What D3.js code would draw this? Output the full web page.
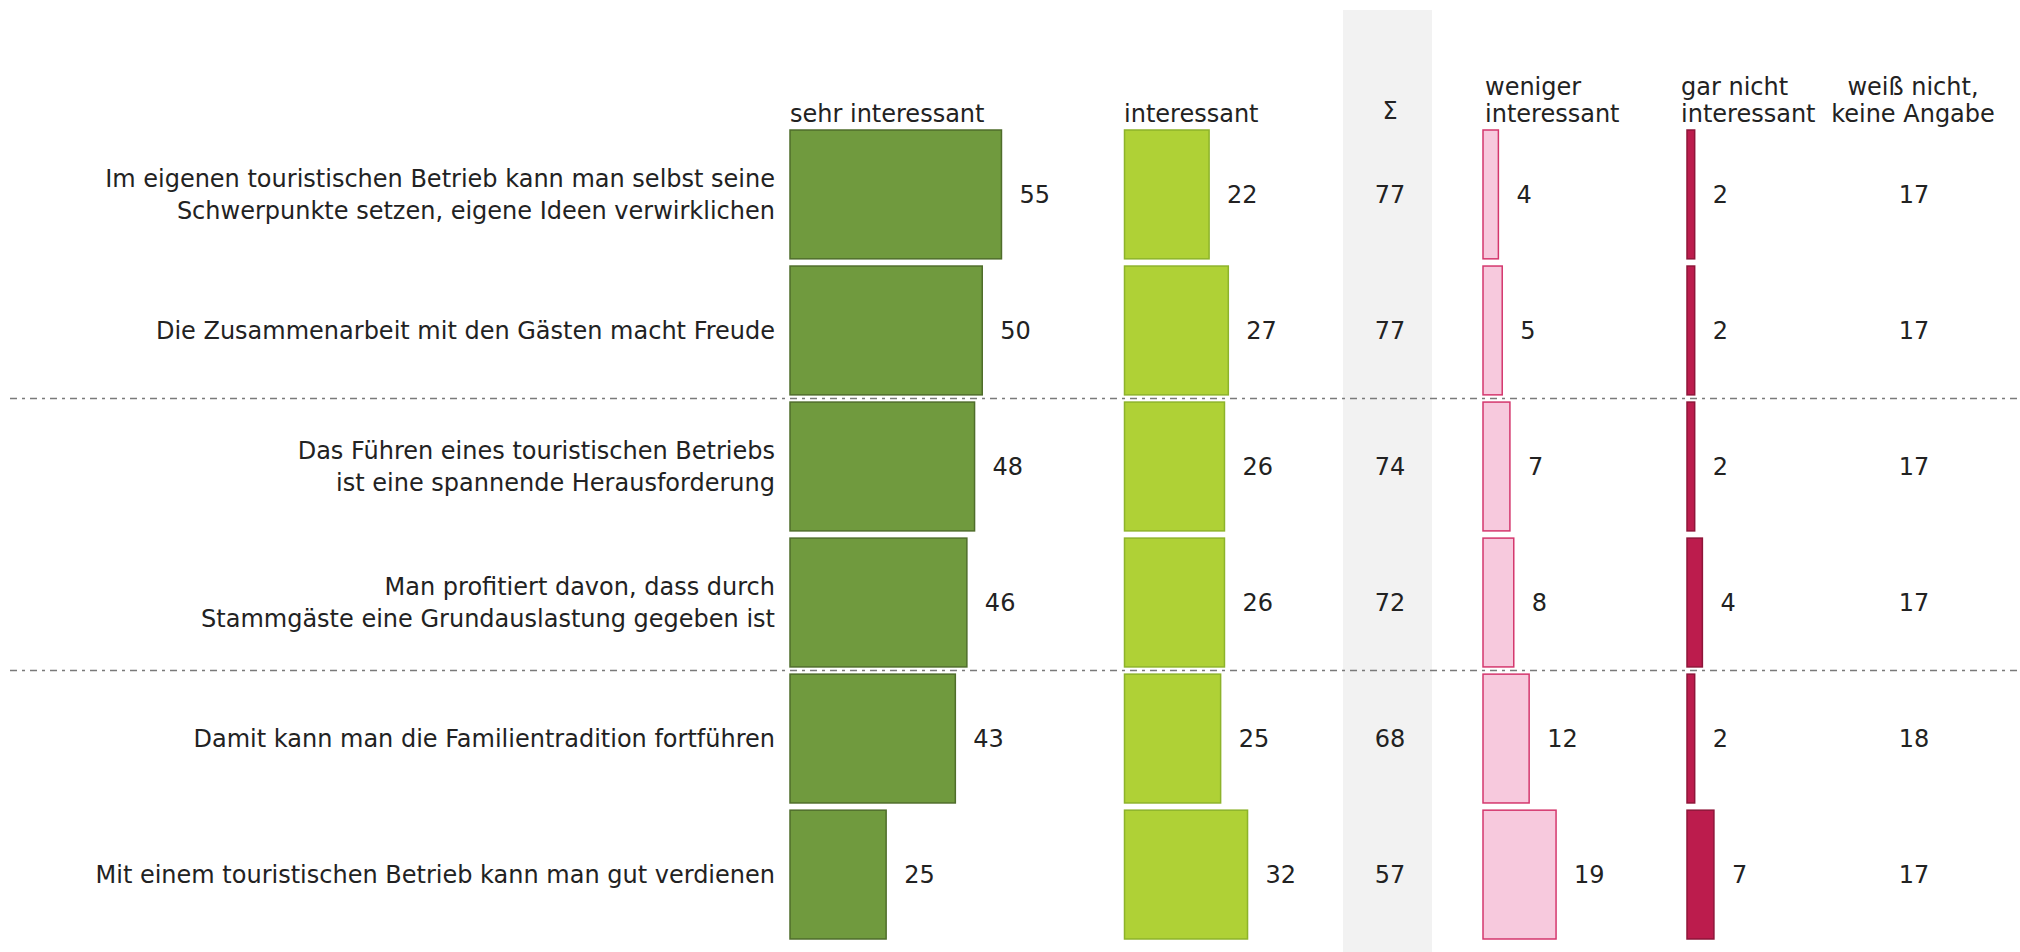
<!DOCTYPE html>
<html>
<head>
<meta charset="utf-8">
<script src="https://cdn.jsdelivr.net/npm/d3@7"></script>
<style>
  html, body { margin: 0; padding: 0; background: #fff; }
  svg text { font-family: "DejaVu Sans", sans-serif; fill: #222; }
</style>
</head>
<body>
<svg id="chart"></svg>
<script>
// categories (line breaks marked with |)
const categories = [
  'Im eigenen touristischen Betrieb kann man selbst seine|Schwerpunkte setzen, eigene Ideen verwirklichen',
  'Die Zusammenarbeit mit den Gästen macht Freude',
  'Das Führen eines touristischen Betriebs|ist eine spannende Herausforderung',
  'Man profitiert davon, dass durch|Stammgäste eine Grundauslastung gegeben ist',
  'Damit kann man die Familientradition fortführen',
  'Mit einem touristischen Betrieb kann man gut verdienen'
];

const sehrInteressant = [55, 50, 48, 46, 43, 25];
const interessant     = [22, 27, 26, 26, 25, 32];
const summe           = [77, 77, 74, 72, 68, 57];
const wenigerInt      = [4, 5, 7, 8, 12, 19];
const garNichtInt     = [2, 2, 2, 4, 2, 7];
const weissNicht      = [17, 17, 17, 17, 18, 17];

const headers = [
  {key: 'sehr',    lines: ['sehr interessant']},
  {key: 'inter',   lines: ['interessant']},
  {key: 'sum',     lines: ['Σ']},
  {key: 'weniger', lines: ['weniger', 'interessant']},
  {key: 'gar',     lines: ['gar nicht', 'interessant']},
  {key: 'wn',      lines: ['weiß nicht,', 'keine Angabe']}
];

// separators drawn after these row indices
const groupBreaks = [1, 3];

const width = 2020, height = 952;
const fontSize = 24;

const svg = d3.select('#chart')
    .attr('width', width)
    .attr('height', height);

const y = d3.scaleBand()
    .domain(d3.range(categories.length))
    .range([126.4, 942.6])
    .paddingInner(0.053)
    .paddingOuter(0.0265);

// one unit scale per bar column, all sharing the same px/percent
const unit = d3.scaleLinear().domain([0, 100]).range([0, 384.5]);

const cols = [
  {key: 'sehr',    x0: 790,    values: sehrInteressant, fill: '#709a3e', stroke: '#4f6d2b'},
  {key: 'inter',   x0: 1124.5, values: interessant,     fill: '#afd136', stroke: '#8db32a'},
  {key: 'weniger', x0: 1483,   values: wenigerInt,      fill: '#f7c9dd', stroke: '#d4376d'},
  {key: 'gar',     x0: 1687,   values: garNichtInt,     fill: '#bc1c4d', stroke: '#8e1539'}
];

// grey band behind the sum column
svg.append('rect')
    .attr('x', 1343)
    .attr('y', 10)
    .attr('width', 89)
    .attr('height', height - 10)
    .attr('fill', '#f2f2f2');

// dash-dot separators
svg.selectAll('.sep')
  .data(groupBreaks)
  .join('line')
    .attr('class', 'sep')
    .attr('x1', 10)
    .attr('x2', width)
    .attr('y1', d => y(d) + y.bandwidth() + (y.step() - y.bandwidth()) / 2)
    .attr('y2', d => y(d) + y.bandwidth() + (y.step() - y.bandwidth()) / 2)
    .attr('stroke', '#7a7a7a')
    .attr('stroke-width', 1.5)
    .attr('stroke-dasharray', '7 5 3 5');

// category labels
const labels = svg.selectAll('.cat')
  .data(categories)
  .join('text')
    .attr('class', 'cat')
    .attr('text-anchor', 'end')
    .attr('font-size', fontSize)
    .attr('x', 775)
    .attr('y', (d, i) => y(i) + y.bandwidth() / 2);

labels.each(function(d) {
  const lines = d.split('|');
  const lh = 32;
  d3.select(this).selectAll('tspan')
    .data(lines)
    .join('tspan')
      .attr('x', 775)
      .attr('dy', (l, j) => j === 0 ? (-(lines.length - 1) * lh / 2 + fontSize * 0.36) : lh)
      .text(l => l);
});

// bars + value labels
cols.forEach(c => {
  const g = svg.append('g').attr('class', 'col-' + c.key);
  g.selectAll('rect')
    .data(c.values)
    .join('rect')
      .attr('x', c.x0)
      .attr('y', (d, i) => y(i))
      .attr('width', d => unit(d))
      .attr('height', y.bandwidth())
      .attr('fill', c.fill)
      .attr('stroke', c.stroke)
      .attr('stroke-width', 1.5);
  g.selectAll('text')
    .data(c.values)
    .join('text')
      .attr('x', d => c.x0 + unit(d) + 18)
      .attr('y', (d, i) => y(i) + y.bandwidth() / 2)
      .attr('dy', '0.36em')
      .attr('font-size', fontSize)
      .text(d => d);
});

// text-only columns: sum and "weiß nicht"
[{values: summe, cx: 1390}, {values: weissNicht, cx: 1914}].forEach(c => {
  svg.append('g').selectAll('text')
    .data(c.values)
    .join('text')
      .attr('x', c.cx)
      .attr('y', (d, i) => y(i) + y.bandwidth() / 2)
      .attr('dy', '0.36em')
      .attr('text-anchor', 'middle')
      .attr('font-size', fontSize)
      .text(d => d);
});

// column headers
const headerPos = {
  sehr:    {x: 790,  anchor: 'start'},
  inter:   {x: 1124, anchor: 'start'},
  sum:     {x: 1390, anchor: 'middle'},
  weniger: {x: 1485, anchor: 'start'},
  gar:     {x: 1681, anchor: 'start'},
  wn:      {x: 1913, anchor: 'middle'}
};

headers.forEach(h => {
  const p = headerPos[h.key];
  const t = svg.append('text')
      .attr('class', 'hdr')
      .attr('text-anchor', p.anchor)
      .attr('font-size', fontSize);
  const baseY = h.key === 'sum' ? 119 : 122;
  h.lines.forEach((l, j) => {
    t.append('tspan')
      .attr('x', p.x)
      .attr('y', baseY - (h.lines.length - 1 - j) * 27)
      .text(l);
  });
});
</script>
</body>
</html>
